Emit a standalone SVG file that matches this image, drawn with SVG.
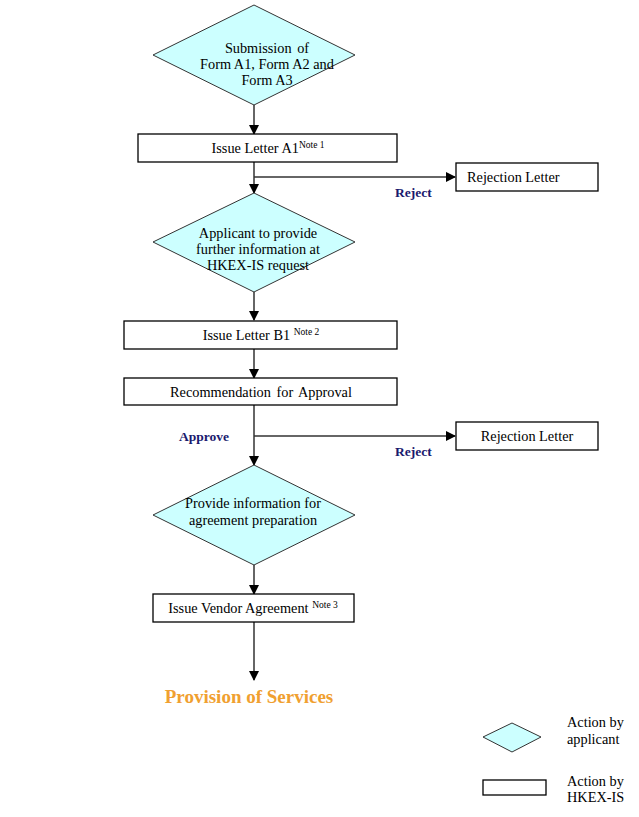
<svg xmlns="http://www.w3.org/2000/svg" width="639" height="817" viewBox="0 0 639 817">
<style>
text{font-family:"Liberation Serif","Times New Roman",serif;font-size:14.3px;fill:#000}
.d{fill:#CCFFFF;stroke:#333;stroke-width:1}
.b{fill:#fff;stroke:#000;stroke-width:1.3}
.c{stroke:#333;stroke-width:1.5;fill:none;marker-end:url(#ah)}
.lbl{font-weight:bold;font-size:13.5px;fill:#1a1a6e}
.sup{font-size:9.5px}
.prov{font-weight:bold;font-size:19px;fill:#F0A030}
</style>
<defs>
<marker id="ah" markerWidth="10" markerHeight="10" refX="9" refY="5" orient="auto" markerUnits="userSpaceOnUse">
<path d="M0,0 L10,5 L0,10 z" fill="#000"/>
</marker>
</defs>
<rect width="639" height="817" fill="#fff"/>
<g id="connectors">
<line class="c" x1="254" y1="105" x2="254" y2="134"/>
<line class="c" x1="254" y1="162" x2="254" y2="193"/>
<line class="c" x1="254" y1="177" x2="455" y2="177"/>
<line class="c" x1="254" y1="292" x2="254" y2="320"/>
<line class="c" x1="254" y1="349" x2="254" y2="378"/>
<line class="c" x1="254" y1="405" x2="254" y2="465"/>
<line class="c" x1="254" y1="436" x2="455" y2="436"/>
<line class="c" x1="254" y1="565" x2="254" y2="594"/>
<line class="c" x1="254" y1="622" x2="254" y2="680"/>
<text class="lbl" x="395" y="197">Reject</text>
<text class="lbl" x="179" y="441">Approve</text>
<text class="lbl" x="395" y="456">Reject</text>
</g>
<g id="submission">
<polygon class="d" points="254,5 355,55 254,105 153,55"/>
<text x="267" y="53" text-anchor="middle" word-spacing="2">Submission of</text>
<text x="267" y="69" text-anchor="middle">Form A1, Form A2 and</text>
<text x="267" y="85" text-anchor="middle">Form A3</text>
</g>
<g id="letterA1">
<rect class="b" x="138" y="134" width="259" height="28"/>
<text x="268" y="153" text-anchor="middle">Issue Letter A1<tspan class="sup" dy="-5">Note 1</tspan></text>
</g>
<g id="reject1">
<rect class="b" x="456" y="163" width="142" height="28"/>
<text x="467" y="182">Rejection Letter</text>
</g>
<g id="applicant">
<polygon class="d" points="254,193 355,242 254,292 153,242"/>
<text x="258" y="238" text-anchor="middle">Applicant to provide</text>
<text x="258" y="254" text-anchor="middle">further information at</text>
<text x="258" y="270" text-anchor="middle">HKEX-IS request</text>
</g>
<g id="letterB1">
<rect class="b" x="124" y="321" width="273" height="28"/>
<text x="261" y="340" text-anchor="middle">Issue Letter B1 <tspan class="sup" dy="-5">Note 2</tspan></text>
</g>
<g id="recommendation">
<rect class="b" x="124" y="378" width="273" height="27"/>
<text x="261" y="397" text-anchor="middle" word-spacing="2">Recommendation for Approval</text>
</g>
<g id="reject2">
<rect class="b" x="456" y="422" width="142" height="28"/>
<text x="527" y="441" text-anchor="middle">Rejection Letter</text>
</g>
<g id="provide">
<polygon class="d" points="254,465 355,515 254,565 153,515"/>
<text x="253" y="508" text-anchor="middle">Provide information for</text>
<text x="253" y="525" text-anchor="middle">agreement preparation</text>
</g>
<g id="vendor">
<rect class="b" x="153" y="594" width="201" height="28"/>
<text x="253" y="613" text-anchor="middle">Issue Vendor Agreement <tspan class="sup" dy="-5">Note 3</tspan></text>
</g>
<g id="provision">
<text class="prov" x="249" y="703" text-anchor="middle">Provision of Services</text>
</g>
<g id="legend">
<polygon class="d" points="512,723 541,737 512,752 483,737"/>
<rect class="b" x="483" y="780" width="63" height="15"/>
<text x="567" y="727">Action by</text>
<text x="567" y="744">applicant</text>
<text x="567" y="786">Action by</text>
<text x="567" y="802">HKEX-IS</text>
</g>
</svg>
